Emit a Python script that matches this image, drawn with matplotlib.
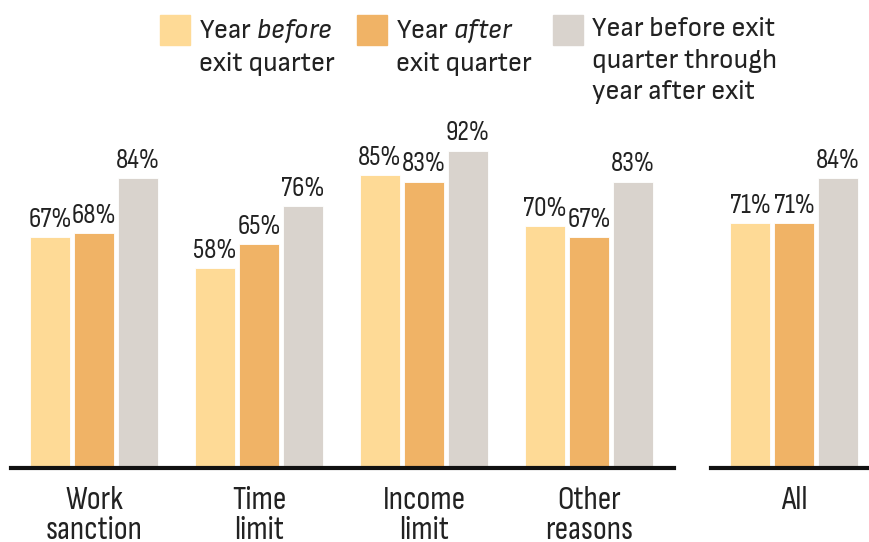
import matplotlib
matplotlib.use("Agg")
import numpy as np
from matplotlib import pyplot as plt
from matplotlib.patches import Rectangle

cond = ['Sofia Sans Condensed', 'DejaVu Sans']
plain = ['Sofia Sans', 'DejaVu Sans']
plt.rcParams['font.family'] = cond
plt.rcParams['font.weight'] = 'light'
plt.rcParams['mathtext.fontset'] = 'custom'
plt.rcParams['mathtext.rm'] = 'Sofia Sans:light'
plt.rcParams['mathtext.it'] = 'Sofia Sans:italic:light'

categories = ['Work\nsanction', 'Time\nlimit', 'Income\nlimit', 'Other\nreasons']
year_before = [67, 58, 85, 70]
year_after = [68, 65, 83, 67]
through = [84, 76, 92, 83]
all_label = ['All']
all_before = [71]
all_after = [71]
all_through = [84]

series_names = [r'Year $\it{before}$' + '\nexit quarter',
                r'Year $\it{after}$' + '\nexit quarter',
                'Year before exit\nquarter through\nyear after exit']
colors = ['#FEDA96', '#F0B366', '#D9D3CD']
txt = '#222222'

W, H = 869, 542
fig = plt.figure(figsize=(W / 100, H / 100), dpi=100)

unit = 165.0   # pixels per group
base_y = 74    # pixels from bottom for baseline
top_h = 345    # pixels for 0..100

ax1 = fig.add_axes([11 / W, base_y / H, (674 - 11) / W, top_h / H])
ax2 = fig.add_axes([711 / W, base_y / H, (869 - 711) / W, top_h / H])

bw = 40 / unit
off = 44 / unit


def draw(ax, labels, groups, xlim):
    x = np.arange(len(labels))
    for i, (vals, c) in enumerate(zip(groups, colors)):
        bars = ax.bar(x + (i - 1) * off, vals, width=bw, color=c,
                      edgecolor='white', linewidth=0.6)
        for b, v in zip(bars, vals):
            ax.text(b.get_x() + b.get_width() / 2, v + 1.5, f'{v}%',
                    ha='center', va='bottom', fontsize=20, color=txt)
    ax.set_xlim(*xlim)
    ax.set_ylim(0, 100)
    ax.set_xticks(x)
    ax.set_xticklabels(labels, fontsize=24, color=txt, linespacing=1.05)
    ax.tick_params(axis='x', length=0, pad=13)
    ax.set_yticks([])
    for s in ['top', 'right', 'left']:
        ax.spines[s].set_visible(False)
    ax.spines['bottom'].set_linewidth(3)
    ax.spines['bottom'].set_color('#111111')


draw(ax1, categories, [year_before, year_after, through],
     (-83 / unit, 3 + (674 - 11 - 83 - 3 * unit) / unit))
draw(ax2, all_label, [all_before, all_after, all_through],
     (-83 / unit, 75 / unit))

# legend
leg_x = [160, 357, 553]
for lx, name, c in zip(leg_x, series_names, colors):
    fig.patches.append(Rectangle((lx / W, 1 - 45 / H), 30 / W, 30 / H,
                                 transform=fig.transFigure, color=c))
    fig.text((lx + 39) / W, 1 - 17 / H, name, ha='left', va='top',
             fontsize=19.5, color=txt, linespacing=1.4, family=plain)

fig.savefig('out.png', dpi=100)
